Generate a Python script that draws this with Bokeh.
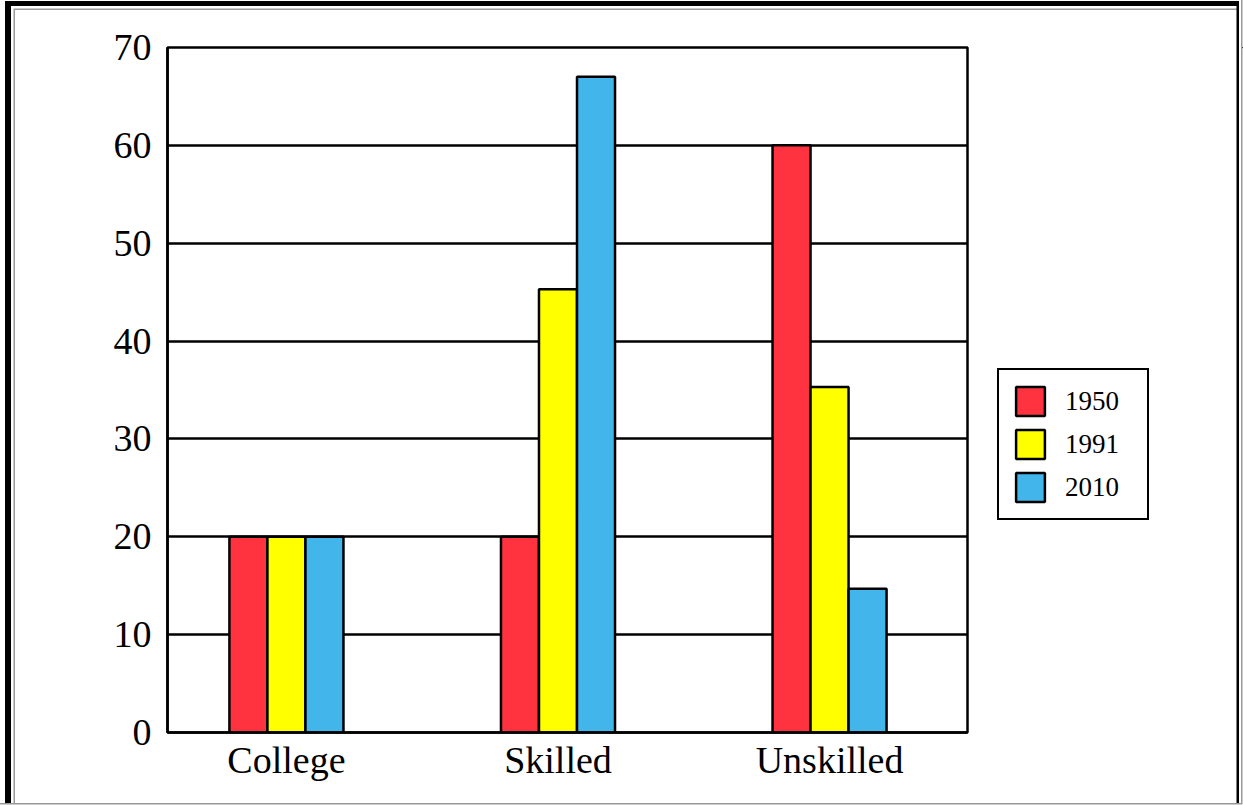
from bokeh.plotting import figure
from bokeh.layouts import row
from bokeh.models import ColumnDataSource, FixedTicker, Legend, LegendItem
from bokeh.embed import file_html
from bokeh.resources import INLINE

categories = ["College", "Skilled", "Unskilled"]
years = ["1950", "1991", "2010"]
values_1950 = [20, 20, 60]
values_1991 = [20, 45.3, 35.3]
values_2010 = [20, 67, 14.7]
y_ticks = [0, 10, 20, 30, 40, 50, 60, 70]

colors = ["#FF333F", "#FFFF00", "#42B6EB"]
FONT = "Liberation Serif"

W1, W2, H = 990, 253, 805
FRAME_BOTTOM = 732
p = figure(width=W1, height=H, output_backend="svg", toolbar_location=None,
           x_range=(-0.438, 2.508), y_range=(0, 70),
           min_border_left=167, min_border_right=W1 - 967,
           min_border_top=47, min_border_bottom=H - FRAME_BOTTOM)

xs = list(range(len(categories)))
bw = 0.14
offsets = [-bw, 0, bw]
series = [values_1950, values_1991, values_2010]
for vals, off, col in zip(series, offsets, colors):
    src = ColumnDataSource(dict(x=[x + off for x in xs], top=vals))
    p.vbar(x="x", top="top", width=bw, bottom=0, source=src,
           fill_color=col, line_color="black", line_width=2.5)

p.xaxis.ticker = FixedTicker(ticks=xs)
p.xaxis.major_label_overrides = {i: c for i, c in enumerate(categories)}
p.yaxis.ticker = FixedTicker(ticks=y_ticks)
for ax in (p.xaxis, p.yaxis):
    ax.major_tick_line_color = None
    ax.minor_tick_line_color = None
    ax.axis_line_color = "black"
    ax.axis_line_width = 2.5
    ax.major_label_text_font = FONT
    ax.major_label_text_font_size = "38px"
    ax.major_label_text_color = "black"
p.xaxis.major_label_standoff = 0
p.yaxis.major_label_standoff = 10

p.xgrid.grid_line_color = None
p.ygrid.ticker = FixedTicker(ticks=y_ticks)
p.ygrid.grid_line_color = "black"
p.ygrid.grid_line_width = 2.5
p.ygrid.level = "underlay"

p.outline_line_color = "black"
p.outline_line_width = 2.5
p.background_fill_color = "white"
p.border_fill_color = None

# legend panel (its frame is aligned with the chart frame by the row layout)
q = figure(width=W2, height=H, output_backend="svg", toolbar_location=None,
           x_range=(0, 1), y_range=(0, 1),
           min_border_left=0, min_border_right=0, min_border_top=0, min_border_bottom=0)
q.axis.visible = False
q.grid.visible = False
q.outline_line_color = None
q.background_fill_color = None
q.border_fill_color = None
leg_renderers = []
for col in colors:
    # swatch-only renderer: its bar lies outside the visible range
    leg_renderers.append(q.vbar(x=[5], top=[5], bottom=4, width=0.1, fill_color=col,
                                line_color="black", line_width=2.5))
legend = Legend(items=[LegendItem(label=y, renderers=[r]) for y, r in zip(years, leg_renderers)],
                location=(7, FRAME_BOTTOM - 520))
legend.glyph_width = 36
legend.glyph_height = 36
legend.spacing = 7
legend.padding = 13
legend.margin = 0
legend.label_standoff = 17
legend.label_width = 69
legend.label_text_font = FONT
legend.label_text_font_size = "27px"
legend.label_text_color = "black"
legend.border_line_color = "black"
legend.border_line_alpha = 1
legend.border_line_width = 2.5
legend.background_fill_color = "white"
legend.background_fill_alpha = 1
q.add_layout(legend, "center")

layout = row(p, q)
layout.styles = {"box-shadow": ", ".join([
    "inset -0.5px 0 0 0 #fff", "inset 0 -0.5px 0 0 #fff",
    "inset -2px 0 0 0 #999", "inset 0 -2px 0 0 #999",
    "inset -4px 0 0 0 #fff",
    "inset 5px 0 0 0 #fff", "inset 0 1px 0 0 #fff",
    "inset -6.5px 0 0 0 #000",
    "inset 11px 0 0 0 #000", "inset 0 6px 0 0 #000",
    "inset 13.5px 0 0 0 #fff", "inset 0 8.5px 0 0 #fff",
    "inset 15px 0 0 0 #999", "inset 0 10px 0 0 #999"])}

open("out.html", "w").write(file_html(layout, INLINE))
